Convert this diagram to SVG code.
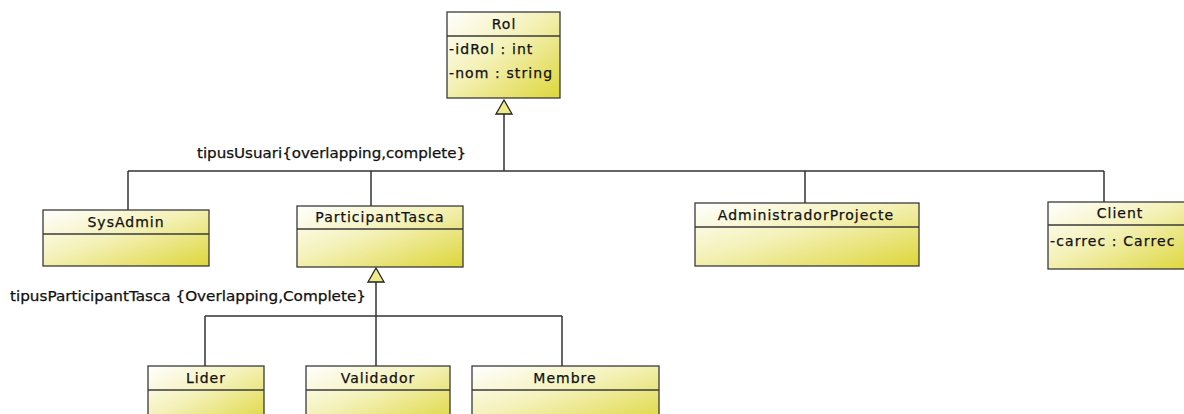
<svg xmlns="http://www.w3.org/2000/svg" width="1184" height="414" viewBox="0 0 1184 414">
  <style>
    .box { fill: url(#classFill); stroke: #3a3a3a; stroke-width: 1.3; }
    .sep { stroke: #3a3a3a; stroke-width: 1.3; }
    text { font-family: "DejaVu Sans", sans-serif; font-size: 14px; fill: #111; stroke: #111; stroke-width: 0.25px; }
    .name { text-anchor: middle; letter-spacing: 1px; }
    .attr { letter-spacing: 1.1px; }
    .edge { fill: none; stroke: #333; stroke-width: 1.5; }
    .gen { fill: #efeb8a; stroke: #222; stroke-width: 1.3; }
  </style>
  <defs>
    <linearGradient id="classFill" x1="0" y1="0" x2="1" y2="1">
      <stop offset="0" stop-color="#ffffff"/>
      <stop offset="0.45" stop-color="#f4f1b8"/>
      <stop offset="1" stop-color="#ddd63a"/>
    </linearGradient>
  </defs>

  <!-- generalisation connectors -->
  <g id="connectors">
    <path class="edge" d="M504 114 V171 M128 171 H1104 M128 171 V210 M371 171 V206 M805 171 V203 M1104 171 V202"/>
    <path class="gen" d="M504 100 L496 114 L512 114 Z"/>
    <path class="edge" d="M376 282 V366 M205 316 H562 M205 316 V366 M562 316 V366"/>
    <path class="gen" d="M376 268 L368 282 L384 282 Z"/>
    <text x="197" y="158" textLength="269" lengthAdjust="spacingAndGlyphs">tipusUsuari{overlapping,complete}</text>
    <text x="10" y="301" textLength="356" lengthAdjust="spacingAndGlyphs">tipusParticipantTasca {Overlapping,Complete}</text>
  </g>

  <g id="Rol">
    <rect class="box" x="447" y="12" width="113" height="86"/>
    <line class="sep" x1="447" y1="36" x2="560" y2="36"/>
    <text class="name" x="504" y="29">Rol</text>
    <text class="attr" x="449" y="54">-idRol : int</text>
    <text class="attr" x="449" y="78">-nom : string</text>
  </g>

  <g id="SysAdmin">
    <rect class="box" x="43" y="210" width="166" height="56"/>
    <line class="sep" x1="43" y1="234" x2="209" y2="234"/>
    <text class="name" x="126" y="227">SysAdmin</text>
  </g>

  <g id="ParticipantTasca">
    <rect class="box" x="297" y="206" width="166" height="61"/>
    <line class="sep" x1="297" y1="229" x2="463" y2="229"/>
    <text class="name" x="380" y="222">ParticipantTasca</text>
  </g>

  <g id="AdministradorProjecte">
    <rect class="box" x="695" y="203" width="224" height="63"/>
    <line class="sep" x1="695" y1="227" x2="919" y2="227"/>
    <text class="name" x="806" y="220">AdministradorProjecte</text>
  </g>

  <g id="Client">
    <rect class="box" x="1048" y="202" width="144" height="67"/>
    <line class="sep" x1="1048" y1="225" x2="1192" y2="225"/>
    <text class="name" x="1120" y="218">Client</text>
    <text class="attr" x="1050" y="246">-carrec : Carrec</text>
  </g>

  <g id="Lider">
    <rect class="box" x="148" y="366" width="116" height="60"/>
    <line class="sep" x1="148" y1="390" x2="264" y2="390"/>
    <text class="name" x="206" y="383">Lider</text>
  </g>

  <g id="Validador">
    <rect class="box" x="306" y="366" width="144" height="60"/>
    <line class="sep" x1="306" y1="390" x2="450" y2="390"/>
    <text class="name" x="378" y="383">Validador</text>
  </g>

  <g id="Membre">
    <rect class="box" x="472" y="366" width="187" height="60"/>
    <line class="sep" x1="472" y1="390" x2="659" y2="390"/>
    <text class="name" x="565" y="383">Membre</text>
  </g>
</svg>
